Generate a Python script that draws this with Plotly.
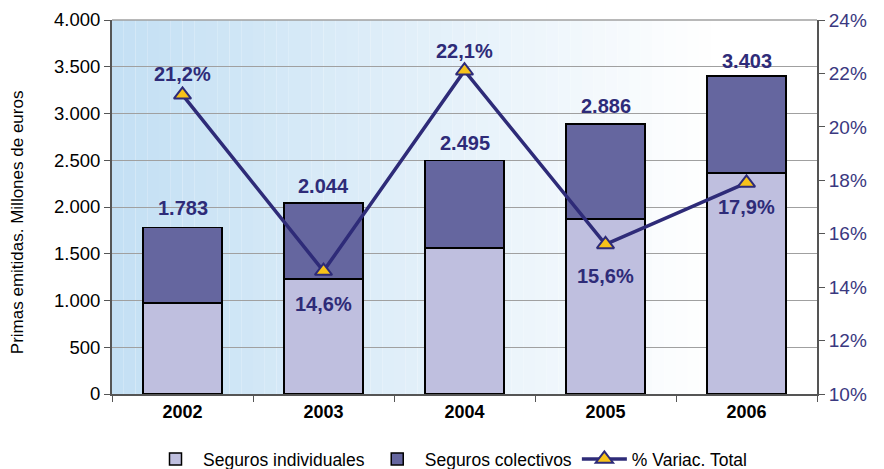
import plotly.graph_objects as go

years = ["2002", "2003", "2004", "2005", "2006"]
individuales = [973, 1230, 1561, 1872, 2363]
totales = [1783, 2044, 2495, 2886, 3403]
colectivos = [t - i for t, i in zip(totales, individuales)]
variacion = [21.2, 14.6, 22.1, 15.6, 17.9]

# label offsets (pixels, style only)
total_shift = [19, 17, 18, 18, 15]
var_shift = [21, -33, 20, -32, -24]

navy = "#2e2b78"
fig = go.Figure()

# gradient background strips
n = 60
for k in range(n):
    t = k / (n - 1)
    f = min(1.0, t / 0.85)
    r = int(196 + (255 - 196) * f)
    g = int(224 + (255 - 224) * f)
    b = int(244 + (255 - 244) * f)
    fig.add_shape(type="rect", xref="x domain", yref="y domain",
                  x0=k / n, x1=(k + 1) / n, y0=0, y1=1,
                  fillcolor=f"rgb({r},{g},{b})", line_width=0, layer="below")

fig.add_trace(go.Bar(x=years, y=individuales, name="Seguros individuales",
                     marker=dict(color="#bfbfdf", line=dict(color="black", width=1.5))))
fig.add_trace(go.Bar(x=years, y=colectivos, name="Seguros colectivos",
                     marker=dict(color="#65669f", line=dict(color="black", width=1.5))))
fig.add_trace(go.Scatter(x=years, y=variacion, name="% Variac. Total", yaxis="y2",
                         mode="lines+markers",
                         line=dict(color=navy, width=3.5),
                         marker=dict(symbol="triangle-up", size=15, color="#f7c21a",
                                     line=dict(color=navy, width=2))))

lab_font = dict(color=navy, size=20, family="Liberation Sans", weight="bold")
for i, (v, s) in enumerate(zip(totales, total_shift)):
    fig.add_annotation(x=i, y=v, xref="x", yref="y", text=f"{v:,}".replace(",", "."),
                       showarrow=False, yanchor="middle", yshift=s, font=lab_font)
for i, (v, s) in enumerate(zip(variacion, var_shift)):
    fig.add_annotation(x=i, y=v, xref="x", yref="y2", text=f"{v:.1f}%".replace(".", ","),
                       showarrow=False, yanchor="middle", yshift=s, font=lab_font)

fig.update_layout(
    width=884, height=469,
    barmode="stack", bargap=0.44,
    separators=",.",
    paper_bgcolor="white", plot_bgcolor="rgba(0,0,0,0)",
    margin=dict(l=104, r=75, t=12, b=83, autoexpand=False),
    font=dict(family="Liberation Sans", size=18, color="black"),
    xaxis=dict(type="category", tickson="boundaries", ticks="outside", ticklen=6,
               tickcolor="#555555", showline=True, linecolor="#555555", linewidth=2,
               tickfont=dict(size=18, weight="bold"), automargin=False,
               range=[-0.5, 4.5]),
    yaxis=dict(range=[0, 4000], dtick=500, tickformat=",d", showgrid=True,
               gridcolor="#a0a0a0", gridwidth=1, ticks="outside", ticklen=6,
               tickcolor="#555555", showline=True, linecolor="#555555", linewidth=2,
               tickfont=dict(size=18.5),
               zeroline=False, automargin=False),
    yaxis2=dict(range=[10, 24], dtick=2, overlaying="y", side="right",
                ticksuffix="%", showgrid=False, ticks="outside", ticklen=6,
                tickcolor="#555555", showline=True, linecolor="#555555", linewidth=2,
                tickfont=dict(color="#3a3880", size=19), zeroline=False, automargin=False),
    legend=dict(orientation="h", x=0.5, xanchor="center", xref="container",
                y=-0.005, yanchor="bottom", yref="container",
                font=dict(size=17.5), traceorder="normal", itemwidth=45),
    showlegend=True,
)
fig.add_annotation(text="Primas emitidas. Millones de euros", xref="paper", yref="paper",
                   x=-0.133, y=0.46, textangle=-90, showarrow=False,
                   font=dict(size=17, color="black"), xanchor="center", yanchor="middle")
fig.add_shape(type="line", xref="x domain", yref="y domain", x0=0, x1=1, y0=1, y1=1,
              line=dict(color="#a0a0a0", width=1.5))

fig.write_html("out.html")
